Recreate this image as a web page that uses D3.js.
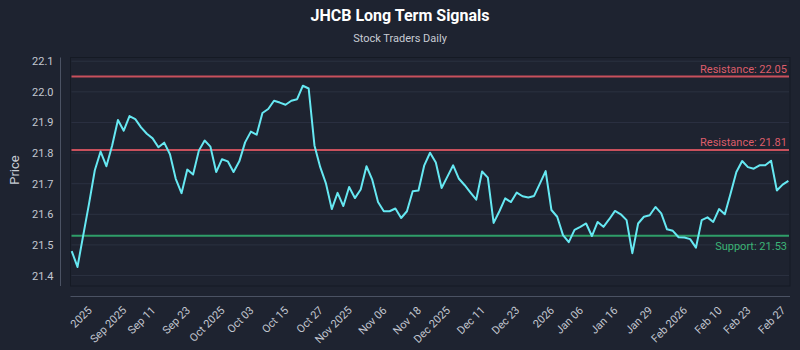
<!DOCTYPE html>
<html>
<head>
<meta charset="utf-8">
<script src="https://cdn.jsdelivr.net/npm/d3@7"></script>
<style>
  body { margin: 0; background: #1e2330; }
  text { font-family: Roboto, "Open Sans", sans-serif; }
</style>
</head>
<body>
<div id="chart"></div>
<script>
// closing prices, one per trading day
var prices = [
  21.480, 21.428, 21.532, 21.635, 21.744, 21.805, 21.757, 21.825, 21.908, 21.873,
  21.921, 21.911, 21.884, 21.863, 21.848, 21.819, 21.834, 21.796, 21.716, 21.669,
  21.746, 21.730, 21.808, 21.841, 21.821, 21.738, 21.780, 21.773, 21.738, 21.773,
  21.835, 21.870, 21.860, 21.931, 21.944, 21.971, 21.965, 21.958, 21.971, 21.976,
  22.020, 22.011, 21.825, 21.754, 21.700, 21.617, 21.670, 21.627, 21.689, 21.653,
  21.681, 21.757, 21.713, 21.640, 21.610, 21.610, 21.619, 21.588, 21.610, 21.675,
  21.678, 21.760, 21.801, 21.769, 21.686, 21.723, 21.760, 21.716, 21.695, 21.671,
  21.648, 21.740, 21.720, 21.572, 21.610, 21.652, 21.640, 21.671, 21.659, 21.655,
  21.660, 21.700, 21.741, 21.614, 21.592, 21.532, 21.509, 21.549, 21.559, 21.570,
  21.529, 21.575, 21.559, 21.584, 21.611, 21.600, 21.581, 21.473, 21.570, 21.592,
  21.597, 21.624, 21.603, 21.551, 21.546, 21.525, 21.524, 21.519, 21.491, 21.581,
  21.590, 21.575, 21.617, 21.600, 21.668, 21.738, 21.774, 21.754, 21.749, 21.760,
  21.760, 21.775, 21.678, 21.697, 21.709
];

// x axis labels and the trading-day index where each one sits
var tickLabels = ["2025", "Sep 2025", "Sep 11", "Sep 23", "Oct 2025", "Oct 03", "Oct 15", "Oct 27",
  "Nov 2025", "Nov 06", "Nov 18", "Dec 2025", "Dec 11", "Dec 23", "2026", "Jan 06", "Jan 16",
  "Jan 29", "Feb 2026", "Feb 10", "Feb 23", "Feb 27"];
var tickIndex = [3, 9, 14, 20, 26, 31, 37, 43, 48, 54, 60, 65, 71, 77, 83, 88, 94, 100, 106, 112, 117, 123];

// signal levels
var levelNames = ["Resistance", "Resistance", "Support"];
var levelValues = [22.05, 21.81, 21.53];

var yTicks = [21.4, 21.5, 21.6, 21.7, 21.8, 21.9, 22.0, 22.1];

var W = 800, H = 350;
var plot = {left: 70.5, right: 790, top: 57.5, bottom: 286};

var svg = d3.select("#chart").append("svg")
    .attr("width", W).attr("height", H);

svg.append("rect").attr("width", W).attr("height", H).style("fill", "#1e2330");

//---- title
svg.append("text").attr("x", W / 2).attr("y", 21)
    .attr("text-anchor", "middle")
    .style("font-size", "16px").style("font-weight", "bold").style("fill", "#ffffff")
    .text("JHCB Long Term Signals");
svg.append("text").attr("x", W / 2).attr("y", 42)
    .attr("text-anchor", "middle")
    .style("font-size", "11px").style("fill", "#c8ccd4")
    .text("Stock Traders Daily");

//---- scales
var lo = Math.min(d3.min(prices), d3.min(levelValues)),
    hi = Math.max(d3.max(prices), d3.max(levelValues)),
    pad = (hi - lo) * 0.1;

var x = d3.scaleLinear().domain([0, prices.length - 1])
    .range([plot.left + 1.2, plot.right - 1.6]);
var y = d3.scaleLinear().domain([lo - pad, hi + pad])
    .range([plot.bottom, plot.top]);

// plot frame
svg.append("rect")
    .attr("x", plot.left).attr("y", plot.top)
    .attr("width", plot.right - plot.left).attr("height", plot.bottom - plot.top)
    .style("fill", "#1e2330").style("stroke", "#151a24");

// horizontal grid
svg.append("g").selectAll("line").data(yTicks).enter()
    .append("line")
    .attr("x1", plot.left + 1).attr("x2", plot.right - 1)
    .attr("y1", function(d) { return y(d); }).attr("y2", function(d) { return y(d); })
    .style("stroke", "#2b3141").style("stroke-width", 1);

//---- axes
var yAxis = d3.axisLeft(y).tickValues(yTicks).tickFormat(d3.format(".1f"))
    .tickSize(0).tickPadding(7);
var gy = svg.append("g").attr("transform", "translate(60.5,0)").call(yAxis);
gy.select(".domain").remove();
gy.selectAll("text").style("font-size", "11px").style("fill", "#c3c7d0");
svg.append("line").attr("x1", 60.5).attr("x2", 60.5)
    .attr("y1", plot.top).attr("y2", plot.bottom)
    .style("stroke", "#4b5263");

var xAxis = d3.axisBottom(x).tickValues(tickIndex)
    .tickFormat(function(d, i) { return tickLabels[i]; })
    .tickSize(0);
var gx = svg.append("g").attr("transform", "translate(0,296)").call(xAxis);
gx.select(".domain").remove();
gx.selectAll("text")
    .attr("x", 0).attr("y", 0).attr("dy", 0)
    .attr("text-anchor", "end")
    .attr("transform", "translate(3,15) rotate(-45)")
    .style("font-size", "11px").style("fill", "#c3c7d0");
svg.append("line").attr("x1", plot.left).attr("x2", plot.right)
    .attr("y1", 296.5).attr("y2", 296.5)
    .style("stroke", "#4b5263");

svg.append("text").attr("transform", "rotate(-90)")
    .attr("x", -170).attr("y", 19)
    .attr("text-anchor", "middle")
    .style("font-size", "13px").style("fill", "#c8ccd4")
    .text("Price");

//---- support / resistance levels
var levels = levelValues.map(function(v, i) { return {name: levelNames[i], value: v}; });
var lvl = svg.append("g");
lvl.selectAll("line").data(levels).enter()
    .append("line")
    .attr("x1", plot.left + 1).attr("x2", plot.right - 1)
    .attr("y1", function(d) { return y(d.value); }).attr("y2", function(d) { return y(d.value); })
    .style("stroke", function(d) { return d.name == "Support" ? "#2f9e68" : "#c8505c"; })
    .style("stroke-width", 2);
lvl.selectAll("text").data(levels).enter()
    .append("text")
    .attr("x", plot.right - 3)
    .attr("y", function(d) { return d.name == "Support" ? y(d.value) + 14 : y(d.value) - 4; })
    .attr("text-anchor", "end")
    .style("font-size", "11px")
    .style("fill", function(d) { return d.name == "Support" ? "#3cb476" : "#dd5d6a"; })
    .text(function(d) { return d.name + ": " + d.value.toFixed(2); });

//---- price line
var line = d3.line()
    .x(function(d, i) { return x(i); })
    .y(function(d) { return y(d); });
svg.append("path").datum(prices)
    .attr("d", line)
    .style("fill", "none")
    .style("stroke", "#66e8f2")
    .style("stroke-width", 2)
    .style("stroke-linejoin", "round");
</script>
</body>
</html>
